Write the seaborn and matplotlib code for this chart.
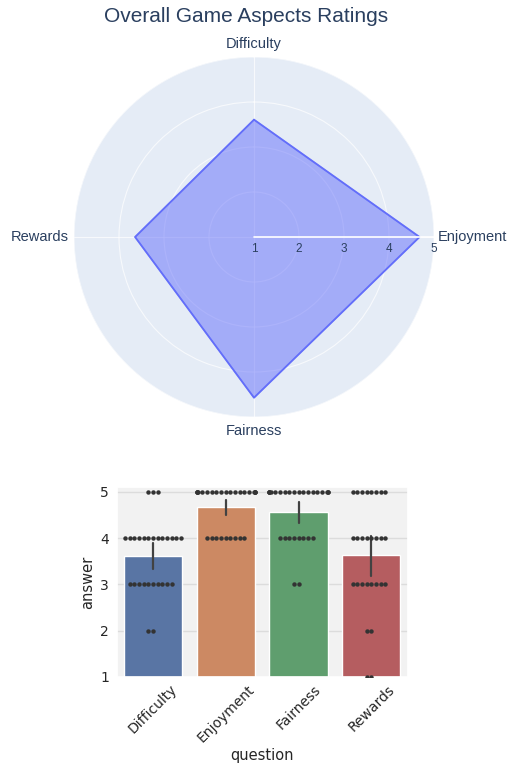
import numpy as np
import pandas as pd
import matplotlib
matplotlib.use('Agg')
import matplotlib.pyplot as plt
import matplotlib.transforms as mtransforms
import seaborn as sns
import warnings
warnings.filterwarnings('ignore')

# survey answers: how many people gave each rating
questions = ['Difficulty', 'Enjoyment', 'Fairness', 'Rewards']
ratings = [1, 2, 3, 4, 5]
counts_difficulty = [0, 2, 10, 13, 3]
counts_enjoyment = [0, 0, 0, 9, 19]
counts_fairness = [0, 0, 2, 8, 18]
counts_rewards = [2, 2, 8, 8, 8]

all_counts = [counts_difficulty, counts_enjoyment, counts_fairness, counts_rewards]
rows = []
for q, cnts in zip(questions, all_counts):
    for r, c in zip(ratings, cnts):
        rows += [(q, r)] * c
df = pd.DataFrame(rows, columns=['question', 'answer'])
means = df.groupby('question')['answer'].mean().reindex(questions)

sns.set_theme(style='darkgrid', rc={'axes.facecolor': '#f2f2f2',
                                    'grid.color': '#dcdcdc'})
plt.rcParams['font.family'] = ['DejaVu Sans']

fig = plt.figure(figsize=(5.10, 7.66), dpi=100)
fig.patch.set_facecolor('white')

# ---- radar chart (plotly look) ----
pc = '#2a3f5f'
pfont = 'Liberation Sans'
ax1 = fig.add_axes([74 / 510, 1 - 417 / 766, 360 / 510, 360 / 766], projection='polar')
ax1.set_facecolor('#e5ecf6')
ax1.set_theta_zero_location('N')
ax1.set_theta_direction(-1)
theta = np.linspace(0, 2 * np.pi, len(questions), endpoint=False)
vals = means.values
ax1.fill(np.append(theta, theta[0]), np.append(vals, vals[0]),
         color='#636efa', alpha=0.5, zorder=3)
ax1.plot(np.append(theta, theta[0]), np.append(vals, vals[0]),
         color='#636efa', lw=1.3, zorder=4)
ax1.set_rlim(1, 5)
ax1.set_yticks([1, 2, 3, 4, 5])
ax1.set_yticklabels([])
ax1.set_xticks(theta)
ax1.set_xticklabels([])
ax1.grid(color='white', lw=0.8, alpha=0.7)
ax1.spines['polar'].set_visible(False)
ax1.plot([np.pi / 2, np.pi / 2], [1, 5], color='white', lw=1.2, zorder=5)

# category labels around the outer ring
lab_pos = [(0, 4, 'center', 'bottom'), (3, 0, 'left', 'center'),
           (0, -5, 'center', 'top'), (-4, 0, 'right', 'center')]
for t, q, (dx, dy, ha, va) in zip(theta, questions, lab_pos):
    tr = mtransforms.offset_copy(ax1.transData, fig=fig, x=dx, y=dy, units='points')
    ax1.text(t, 5, q, transform=tr, ha=ha, va=va, family=pfont,
             fontsize=10.5, color=pc, clip_on=False)

off = mtransforms.offset_copy(ax1.transData, fig=fig, x=0, y=-4, units='points')
for r in [1, 2, 3, 4, 5]:
    ax1.text(np.pi / 2, r, str(r), transform=off, ha='center', va='top',
             family=pfont, fontsize=8.5, color=pc, zorder=6)
fig.text(246 / 510, 1 - 17 / 766, 'Overall Game Aspects Ratings', ha='center',
         va='center', family=pfont, fontsize=15, color=pc)

# ---- bar + swarm ----
ax2 = fig.add_axes([116.7 / 510, 1 - 676.7 / 766, 291 / 510, 189.4 / 766])
sns.barplot(data=df, x='question', y='answer', hue='question', palette='deep',
            order=questions, seed=0, err_kws={'linewidth': 1.6, 'color': '.26'}, ax=ax2)
sns.swarmplot(data=df, x='question', y='answer', order=questions, color='.2',
              size=3.2, ax=ax2)
ax2.set_ylim(1, 5.1)
ax2.set_yticks([1, 2, 3, 4, 5])
ax2.tick_params(axis='x', rotation=45, labelsize=10, length=0, pad=4)
ax2.tick_params(axis='y', labelsize=10, length=0, pad=5.5)
ax2.set_xlabel('question', fontsize=10.5, labelpad=2)
ax2.set_ylabel('answer', fontsize=10.5, labelpad=4)

fig.savefig('out.png', dpi=100)
